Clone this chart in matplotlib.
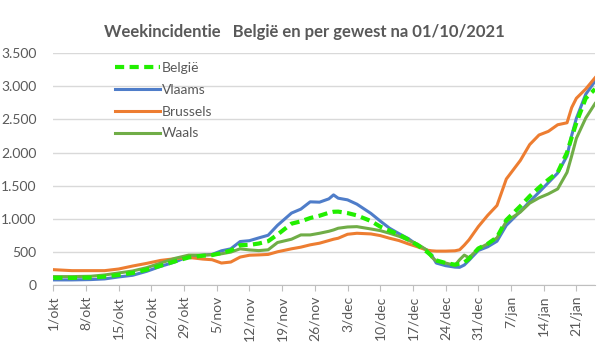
import matplotlib.pyplot as plt
from matplotlib.ticker import FuncFormatter, MultipleLocator

plt.rcParams['font.family'] = ['Lato', 'DejaVu Sans']

# days since 1 oct 2021
days = [0, 4, 8, 11, 14, 17, 20, 23, 26, 29, 32, 34, 36, 38, 40, 42, 44, 46, 48,
        51, 53, 55, 57, 59, 60, 61, 63, 65, 68, 70, 72, 74, 76, 78, 80, 81, 82,
        84, 86, 87, 88, 89, 91, 93, 95, 97, 100, 102, 104, 106, 108, 110, 111,
        112, 114, 116]

belgie = [105, 105, 110, 125, 150, 180, 230, 290, 355, 415, 440, 450, 480, 520,
          600, 604, 625, 660, 760, 925, 960, 1010, 1045, 1090, 1105, 1107, 1085,
          1050, 965, 880, 820, 760, 685, 600, 500, 440, 370, 330, 305, 320, 340,
          395, 550, 620, 720, 980, 1190, 1340, 1470, 1590, 1700, 2000, 2230,
          2450, 2820, 2960]

vlaams = [75, 75, 80, 90, 120, 145, 205, 280, 345, 430, 450, 460, 515, 545,
          655, 668, 710, 750, 900, 1085, 1145, 1255, 1250, 1300, 1360, 1310,
          1285, 1220, 1080, 965, 856, 775, 700, 600, 525, 450, 330, 290, 268,
          265, 300, 370, 520, 575, 660, 900, 1110, 1260, 1400, 1545, 1690, 1950,
          2260, 2517, 2880, 3080]

brussels = [230, 215, 215, 215, 240, 285, 325, 370, 395, 415, 390, 380, 330,
            345, 420, 448, 453, 460, 500, 545, 570, 605, 630, 670, 690, 705, 765,
            780, 770, 745, 705, 670, 620, 575, 525, 515, 510, 510, 515, 530, 600,
            680, 880, 1050, 1200, 1600, 1880, 2120, 2265, 2320, 2420, 2450, 2680,
            2820, 2960, 3130]

waals = [125, 125, 130, 150, 180, 210, 260, 330, 400, 450, 450, 455, 470, 495,
         545, 528, 518, 530, 640, 690, 755, 755, 780, 810, 830, 856, 875, 880,
         845, 820, 780, 735, 675, 615, 525, 420, 360, 330, 295, 380, 450, 410,
         545, 620, 710, 960, 1100, 1235, 1315, 1375, 1450, 1700, 1950, 2215,
         2520, 2740]

tick_labels = ['1/okt', '8/okt', '15/okt', '22/okt', '29/okt', '5/nov', '12/nov',
               '19/nov', '26/nov', '3/dec', '10/dec', '17/dec', '24/dec',
               '31/dec', '7/jan', '14/jan', '21/jan']

grey = '#595959'

fig = plt.figure(figsize=(6.08, 3.53), dpi=100)
ax = fig.add_axes([0.0877, 0.193, 0.891, 0.656])

l_v, = ax.plot(days, vlaams, color='#4F7DC9', lw=2.2, label='Vlaams')
l_b, = ax.plot(days, brussels, color='#ED7D31', lw=2.2, label='Brussels')
l_w, = ax.plot(days, waals, color='#70AD47', lw=2.2, label='Waals')
l_be, = ax.plot(days, belgie, color='#22EE00', lw=3, ls=(0, (2.2, 1.3)),
                label='België')

ax.set_xlim(0, 116)
ax.set_ylim(0, 3500)
ax.yaxis.set_major_locator(MultipleLocator(500))
ax.yaxis.set_major_formatter(FuncFormatter(lambda v, p: f'{int(v):,}'.replace(',', '.')))
ax.set_xticks(range(0, 113, 7))
ax.set_xticklabels(tick_labels, rotation=90)

ax.grid(axis='y', color='#d9d9d9', lw=1)
ax.set_axisbelow(True)
for s in ['top', 'right', 'left']:
    ax.spines[s].set_visible(False)
ax.spines['bottom'].set_color('#bfbfbf')
ax.tick_params(axis='y', length=0, labelsize=10, labelcolor=grey, pad=12)
ax.tick_params(axis='x', length=4, color='#bfbfbf', labelsize=10,
               labelcolor=grey, pad=4)

leg = ax.legend(handles=[l_be, l_v, l_b, l_w], loc='upper left',
                bbox_to_anchor=(0.09, 1.015), frameon=False, fontsize=10,
                handlelength=3.3, handletextpad=0.1, labelspacing=0.7)
for t in leg.get_texts():
    t.set_color(grey)

fig.text(0.5, 0.91, 'Weekincidentie   België en per gewest na 01/10/2021',
         ha='center', va='center', fontsize=12, fontweight='bold', color=grey)

fig.savefig('out.png', dpi=100)
